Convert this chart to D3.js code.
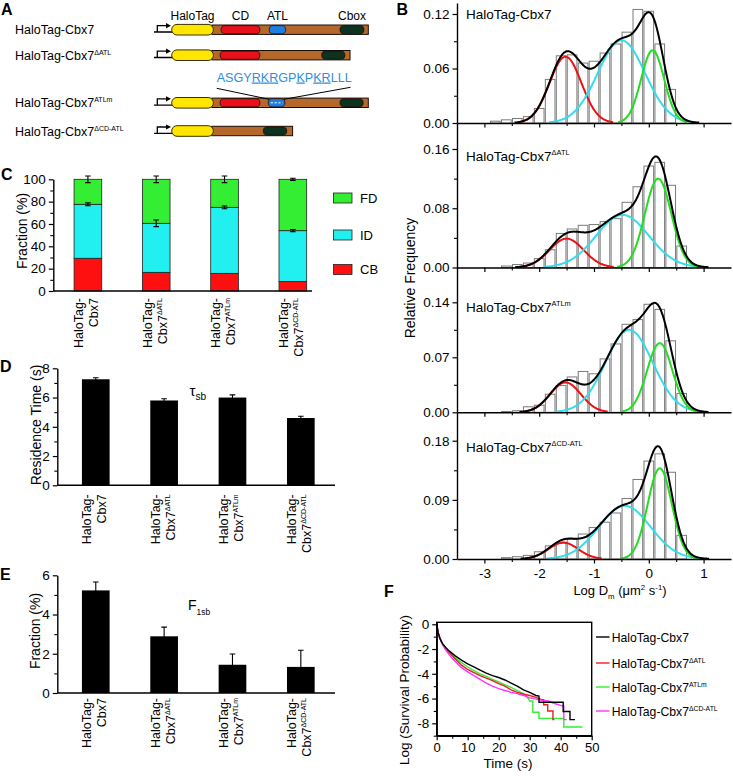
<!DOCTYPE html>
<html><head><meta charset="utf-8">
<script src="https://cdn.jsdelivr.net/npm/d3@7/dist/d3.min.js"></script>
<style>html,body{margin:0;padding:0;background:#fff;}svg{display:block;}</style>
</head><body>
<svg id="fig" width="733" height="778"></svg>
<script>
// ================= DATA =================
const constructBase = "HaloTag-Cbx7";
const constructSup = ["", "ΔATL", "ATLm", "ΔCD-ATL"];
const domainLabels = ["HaloTag", "CD", "ATL", "Cbox"];
// panel A: domain extents along each construct (arbitrary units)
const haloSpan = [0, 21.2];
const bodyStart = 20.4;
const bodyEnd = [100, 90.7, 100, 61.5];
const cdSpan = [[25.1, 44.9], [24.6, 44.9], [24.6, 44.9], null];
const atlSpan = [[49.6, 58], null, [49.1, 57.6], null];
const cboxSpan = [[85.6, 97.8], [76.3, 88.1], [85.6, 97.4], [46.6, 58.5]];
const atlSeq = "ASGYRKRGPKPKRLLL";
const atlUnderlined = [4, 5, 6, 9, 11, 12];

// panel B: histograms of log Dm (bin centres) and three-Gaussian fits
const binCenters = [-2.8, -2.6, -2.4, -2.2, -2.0, -1.8, -1.6, -1.4, -1.2, -1.0, -0.8, -0.6, -0.4, -0.2, 0.0, 0.2, 0.4, 0.6];
const histCbx7    = [0.002, 0.0035, 0.005, 0.007, 0.016, 0.048, 0.074, 0.075, 0.066, 0.068, 0.077, 0.087, 0.100, 0.125, 0.123, 0.087, 0.037, 0];
const histDATL    = [0, 0.002, 0.004, 0.006, 0.012, 0.024, 0.046, 0.052, 0.057, 0.058, 0.062, 0.066, 0.088, 0.109, 0.137, 0.142, 0.111, 0.029];
const histATLm    = [0, 0.001, 0.002, 0.007, 0.009, 0.023, 0.034, 0.045, 0.052, 0.049, 0.068, 0.087, 0.112, 0.118, 0.1375, 0.131, 0.091, 0.024];
const histDCDATL  = [0, 0.002, 0.0035, 0.0055, 0.011, 0.020, 0.024, 0.030, 0.038, 0.048, 0.056, 0.070, 0.092, 0.121, 0.149, 0.160, 0.132, 0.036];
// [amplitude, centre, sigma] for each panel
const fitCB = [[0.073, -1.52, 0.29], [0.039, -1.50, 0.31], [0.038, -1.52, 0.28], [0.025, -1.56, 0.27]];
const fitID = [[0.091, -0.50, 0.43], [0.071, -0.48, 0.48], [0.105, -0.36, 0.43], [0.081, -0.44, 0.47]];
const fitFD = [[0.080, 0.07, 0.21], [0.120, 0.17, 0.24], [0.088, 0.20, 0.23], [0.138, 0.20, 0.22]];
const bYTickMajor = [[0, 0.06, 0.12], [0, 0.08, 0.16], [0, 0.07, 0.14], [0, 0.09, 0.18]];
const bYTickMinor = [[0.03, 0.09], [0.04, 0.12], [0.035, 0.105], [0.045, 0.135]];
const bXTickMajor = [-3, -2, -1, 0, 1];
const bXTickMinor = [-2.5, -1.5, -0.5, 0.5];

// panel C: fractions (%)
const fractionCB = [29.3, 16.7, 15.8, 8.4];
const fractionID = [48.3, 43.9, 59.1, 45.6];
const fractionFD = [22.4, 39.4, 25.1, 46.0];
const errTop = [3, 3, 3, 1];
const errID = [1.3, 3, 1.2, 1.0];
const fractionLegend = ["FD", "ID", "CB"];
const cTicks = [0, 20, 40, 60, 80, 100];
const cTicksMinor = [10, 30, 50, 70, 90];

// panel D: residence time (s)
const residenceTime = [7.25, 5.8, 6.0, 4.6];
const residenceErr = [0.1, 0.12, 0.18, 0.12];
const dTicks = [0, 2, 4, 6, 8];
const dTicksMinor = [1, 3, 5, 7];

// panel E: F1sb fraction (%)
const f1sb = [5.23, 2.89, 1.44, 1.33];
const f1sbErr = [0.43, 0.47, 0.55, 0.85];
const eTicks = [0, 2, 4, 6];
const eTicksMinor = [1, 3, 5];

// panel F: log survival probability vs time (s)
const survCbx7 = [[0,0],[0.5,-0.7],[1,-1.1],[1.5,-1.4],[2,-1.6],[3,-1.9],[4,-2.15],[5,-2.35],[6,-2.55],[8,-2.9],[10,-3.2],[12,-3.45],[14,-3.7],[16,-3.95],[18,-4.15],[20,-4.3],[22,-4.5],[24,-4.75],[26,-5.0],[28,-5.3],[30,-5.5],[32,-5.75],[33,-5.8],[33,-6.3],[40.8,-6.3],[40.8,-7.05],[43,-7.05],[43,-7.7],[44.6,-7.7]];
const survDATL = [[0,0],[0.5,-0.7],[1,-1.1],[2,-1.65],[3,-2.0],[4,-2.3],[5,-2.55],[6,-2.8],[8,-3.3],[10,-3.65],[12,-3.9],[14,-4.15],[16,-4.35],[18,-4.55],[20,-4.8],[22,-5.0],[24,-5.3],[26,-5.5],[28,-5.65],[30,-5.75],[32,-5.9],[34,-6.1],[34.5,-6.1],[34.5,-6.5],[35.8,-6.5],[35.8,-7.0],[37.5,-7.0],[37.5,-7.7],[38,-7.7]];
const survATLm = [[0,0],[0.5,-0.7],[1,-1.1],[2,-1.6],[3,-1.95],[4,-2.2],[5,-2.45],[6,-2.7],[8,-3.1],[10,-3.45],[12,-3.75],[14,-4.0],[16,-4.2],[18,-4.45],[20,-4.65],[22,-4.9],[24,-5.1],[26,-5.35],[28,-5.6],[29,-5.8],[30,-6.2],[31,-6.2],[31,-7.1],[33,-7.1],[33,-7.6],[41,-7.6],[41,-8.3],[47,-8.3]];
const survDCDATL = [[0,0],[0.5,-0.72],[1,-1.15],[2,-1.7],[3,-2.1],[4,-2.45],[5,-2.75],[6,-3.0],[8,-3.5],[10,-3.85],[12,-4.15],[14,-4.45],[16,-4.75],[18,-5.0],[20,-5.2],[22,-5.35],[24,-5.5],[26,-5.6],[28,-5.75],[30,-5.95],[32,-6.05],[34,-6.15],[36,-6.2],[38,-6.4],[40,-6.55],[41,-6.6],[41,-7.7],[42,-7.7]];
const fXTicks = [0, 10, 20, 30, 40, 50];
const fXTicksMinor = [5, 15, 25, 35, 45];
const fYTicks = [-8, -6, -4, -2, 0];
const fYTicksMinor = [-9, -7, -5, -3, -1];

// ================= STYLE / LAYOUT =================
const FF = 'Arial, "Liberation Sans", Helvetica, sans-serif';
const RED = "#ee1111", CYAN = "#33ddee", GREEN = "#22dd22";
const svg = d3.select("#fig").attr("font-family", FF);
const plain = d => String(d);

function styleAxis(g, fs) {
  g.selectAll("path.domain").attr("stroke", "#000").attr("stroke-width", 1.4);
  g.selectAll(".tick line").attr("stroke", "#000").attr("stroke-width", 1.2);
  g.selectAll(".tick text").attr("font-family", FF).attr("font-size", fs || 13.5).attr("fill", "#000");
  return g;
}
function minorAxis(parent, axisFn, scale, vals, tx, ty) {
  const g = parent.append("g").attr("transform", `translate(${tx},${ty})`)
    .call(axisFn(scale).tickValues(vals).tickSize(3).tickFormat(""));
  g.select("path.domain").remove();
  g.selectAll(".tick line").attr("stroke", "#000").attr("stroke-width", 1.1);
}
function rich(textSel, parts, size) {
  let shift = 0;
  parts.forEach(p => {
    let target = 0;
    if (p.s === "sup") target = -size * (p.r || 0.42);
    if (p.s === "sub") target = size * (p.r || 0.28);
    const ts = textSel.append("tspan").text(p.t).attr("dy", target - shift);
    if (p.s) ts.attr("font-size", size * (p.f || 0.58));
    if (p.dx) ts.attr("dx", p.dx);
    shift = target;
  });
}
function panelLetter(t, x, y) {
  svg.append("text").attr("x", x).attr("y", y).attr("font-size", 16).attr("font-weight", "bold").text(t);
}

// ================= PANEL A =================
panelLetter("A", 1, 15);
const xA = d3.scaleLinear().domain([0, 100]).range([171.7, 368.3]);
const rowY = [29.7, 55.2, 102.8, 131];
const gA = svg.append("g");
constructSup.forEach((sup, i) => {
  const t = gA.append("text").attr("x", 15).attr("y", rowY[i] + 4.5).attr("font-size", 12.5);
  rich(t, [{t: constructBase}, ...(sup ? [{t: sup, s: "sup", f: 0.56, r: 0.4}] : [])], 12.5);
  const cy = rowY[i];
  gA.append("path").attr("d", `M154,${cy + 2.3}H173 M157.3,${cy + 2.3}V${cy - 4}H167`).attr("fill", "none").attr("stroke", "#000").attr("stroke-width", 1.3);
  gA.append("path").attr("d", `M166,${cy - 6.6}L171,${cy - 4}L166,${cy - 1.4}Z`).attr("fill", "#000");
  gA.append("rect").attr("x", xA(bodyStart)).attr("y", cy - 4.7).attr("width", xA(bodyEnd[i]) - xA(bodyStart)).attr("height", 9.4)
    .attr("fill", "#b5682c").attr("stroke", "#1a0d05").attr("stroke-width", 1);
  gA.append("rect").attr("x", xA(haloSpan[0])).attr("y", cy - 5.3).attr("width", xA(haloSpan[1]) - xA(haloSpan[0])).attr("height", 10.6)
    .attr("rx", 5.3).attr("fill", "#ffe600").attr("stroke", "#3a3000").attr("stroke-width", 1);
  const pill = (span, col) => {
    if (!span) return;
    gA.append("rect").attr("x", xA(span[0])).attr("y", cy - 4.1).attr("width", xA(span[1]) - xA(span[0])).attr("height", 8.2)
      .attr("rx", 4.1).attr("fill", col).attr("stroke", "#1a0d05").attr("stroke-width", 0.8);
  };
  pill(cdSpan[i], "#e8101a");
  pill(atlSpan[i], "#1e7fe0");
  pill(cboxSpan[i], "#0d3320");
  if (i === 2) {
    gA.append("line").attr("x1", xA(atlSpan[i][0]) + 2.5).attr("x2", xA(atlSpan[i][1]) - 2.5).attr("y1", cy).attr("y2", cy)
      .attr("stroke", "#fff").attr("stroke-width", 1).attr("stroke-dasharray", "2.2,1.6");
  }
});
const domCenters = [(haloSpan[0] + haloSpan[1]) / 2, (cdSpan[0][0] + cdSpan[0][1]) / 2, (atlSpan[0][0] + atlSpan[0][1]) / 2, (cboxSpan[0][0] + cboxSpan[0][1]) / 2];
domainLabels.forEach((d, i) => {
  gA.append("text").attr("x", xA(domCenters[i])).attr("y", 20).attr("text-anchor", "middle").attr("font-size", 12).text(d);
});
const seqText = gA.append("text").attr("x", 216.7).attr("y", 81.5).attr("font-size", 12.6).attr("fill", "#2b8fe0")
  .attr("textLength", 135).attr("lengthAdjust", "spacingAndGlyphs");
atlSeq.split("").forEach((ch, k) => {
  const ts = seqText.append("tspan").text(ch);
  if (atlUnderlined.includes(k)) ts.attr("text-decoration", "underline");
});
gA.append("path").attr("d", `M216.7,88.3L${xA(atlSpan[2][0]) + 1},${rowY[2] - 3.5} M350.5,87.3L${xA(atlSpan[2][1]) - 1},${rowY[2] - 3.5}`)
  .attr("stroke", "#000").attr("stroke-width", 1).attr("fill", "none");

// ================= PANEL B =================
panelLetter("B", 396.5, 15);
const B = {x0: 457, x1: 731, base: [123, 267.5, 412.3, 559], top: [3, 123, 267.5, 412.3], tickPx: [14, 149, 302.3, 440.7]};
const xB = d3.scaleLinear().domain([-3.5, 1.5]).range([B.x0, B.x1]);
const hists = [histCbx7, histDATL, histATLm, histDCDATL];
const gauss = (p, x) => p[0] * Math.exp(-((x - p[1]) ** 2) / (2 * p[2] * p[2]));
const binW = 0.2;
const xsFit = d3.range(-3.0, 1.3001, 0.01);
hists.forEach((h, i) => {
  const tickMax = bYTickMajor[i][2];
  const yMax = tickMax * (B.base[i] - B.top[i]) / (B.base[i] - B.tickPx[i]);
  const y = d3.scaleLinear().domain([0, yMax]).range([B.base[i], B.top[i]]);
  const g = svg.append("g");
  const bw = xB(binW) - xB(0);
  g.selectAll("rect.bar").data(binCenters.map((c, k) => [c, h[k]]).filter(d => d[1] > 0)).enter().append("rect")
    .attr("x", d => xB(d[0]) - bw * 0.44).attr("width", bw * 0.88)
    .attr("y", d => y(d[1])).attr("height", d => y(0) - y(d[1]))
    .attr("fill", "#fff").attr("stroke", "#7a7a7a").attr("stroke-width", 1);
  const comps = [[fitCB[i], RED], [fitID[i], CYAN], [fitFD[i], GREEN]];
  const line = d3.line().x(d => xB(d[0])).y(d => y(d[1])).curve(d3.curveBasis);
  comps.forEach(([p, col]) => {
    const pts = xsFit.map(x => [x, gauss(p, x)]).filter(d => d[1] > 0.0008);
    g.append("path").attr("d", line(pts)).attr("fill", "none").attr("stroke", col).attr("stroke-width", 2);
  });
  const sumPts = xsFit.map(x => [x, comps.reduce((s, c) => s + gauss(c[0], x), 0)]).filter(d => d[1] > 0.0004);
  g.append("path").attr("d", line(sumPts)).attr("fill", "none").attr("stroke", "#000").attr("stroke-width", 2);
  const ya = g.append("g").attr("transform", `translate(${B.x0},0)`)
    .call(d3.axisLeft(y).tickValues(bYTickMajor[i]).tickSize(4.5).tickSizeOuter(0).tickPadding(3).tickFormat(d3.format(".2f")));
  styleAxis(ya);
  minorAxis(g, d3.axisLeft, y, bYTickMinor[i], B.x0, 0);
  const xa = g.append("g").attr("transform", `translate(0,${B.base[i]})`)
    .call(d3.axisBottom(xB).tickValues(bXTickMajor).tickSize(4.5).tickSizeOuter(0).tickPadding(5)
      .tickFormat(i === 3 ? plain : ""));
  styleAxis(xa);
  minorAxis(g, d3.axisBottom, xB, bXTickMinor, 0, B.base[i]);
  const lblY = [19, 161, 311.7, 451.5][i];
  const t = g.append("text").attr("x", 466).attr("y", lblY).attr("font-size", 13.5);
  rich(t, [{t: constructBase}, ...(constructSup[i] ? [{t: constructSup[i], s: "sup", f: 0.55, r: 0.42}] : [])], 13.5);
});
svg.append("text").attr("transform", "translate(415,278) rotate(-90)").attr("text-anchor", "middle").attr("font-size", 14).text("Relative Frequency");
const xTitleB = svg.append("text").attr("x", 620).attr("y", 595).attr("text-anchor", "middle").attr("font-size", 13);
rich(xTitleB, [{t: "Log D"}, {t: "m", s: "sub", f: 0.6, r: 0.3}, {t: " (μm"}, {t: "2", s: "sup", f: 0.6, r: 0.4}, {t: " s"}, {t: "-1", s: "sup", f: 0.6, r: 0.4}, {t: ")"}], 13);

// ================= shared: category labels =================
function catLabels(g, x, axisY, off) {
  constructSup.forEach((sup, i) => {
    const cx = x(i) + x.bandwidth() / 2;
    const t = g.append("g").attr("transform", `translate(${cx},${axisY + off}) rotate(-90)`);
    t.append("text").attr("text-anchor", "end").attr("y", -4.6).attr("font-size", 12.5).text("HaloTag-");
    const l2 = t.append("text").attr("text-anchor", "end").attr("y", 10.4).attr("font-size", 12.5);
    rich(l2, [{t: "Cbx7"}, ...(sup ? [{t: sup, s: "sup", f: 0.56, r: 0.4}] : [])], 12.5);
  });
}
function catScale(r) {
  return d3.scaleBand().domain(d3.range(4)).range(r).paddingInner(0.595).paddingOuter(0.2975);
}
function errBar(g, cx, yTopPx, yBotPx, cap) {
  g.append("path").attr("d", `M${cx},${yTopPx}V${yBotPx} M${cx - cap},${yTopPx}H${cx + cap} M${cx - cap},${yBotPx}H${cx + cap}`)
    .attr("stroke", "#000").attr("stroke-width", 1.1).attr("fill", "none");
}

// ================= PANEL C =================
panelLetter("C", 1, 180);
const xC = catScale([53.75, 327]);
const yC = d3.scaleLinear().domain([0, 100]).range([291, 179.3]);
const gC = svg.append("g");
const stacks = [[fractionCB, "#ff1010"], [fractionID, "#22f0f0"], [fractionFD, "#33ee33"]];
const cum = [0, 0, 0, 0];
stacks.forEach(([vals, col]) => {
  vals.forEach((v, k) => {
    gC.append("rect").attr("x", xC(k)).attr("width", xC.bandwidth())
      .attr("y", yC(cum[k] + v)).attr("height", yC(cum[k]) - yC(cum[k] + v))
      .attr("fill", col).attr("stroke", "#222").attr("stroke-width", 0.8);
    cum[k] += v;
  });
});
d3.range(4).forEach(k => {
  const cx = xC(k) + xC.bandwidth() / 2;
  const tot = fractionCB[k] + fractionID[k] + fractionFD[k];
  errBar(gC, cx, yC(tot + errTop[k]), yC(tot - errTop[k]), 2.8);
  const idTop = fractionCB[k] + fractionID[k];
  errBar(gC, cx, yC(idTop + errID[k]), yC(idTop - errID[k]), 2.8);
});
styleAxis(gC.append("g").attr("transform", "translate(53.3,0)")
  .call(d3.axisLeft(yC).tickValues(cTicks).tickSize(4.5).tickSizeOuter(0).tickPadding(3).tickFormat(plain)));
minorAxis(gC, d3.axisLeft, yC, cTicksMinor, 53.3, 0);
gC.append("line").attr("x1", 53.3).attr("x2", 312).attr("y1", 291).attr("y2", 291).attr("stroke", "#000").attr("stroke-width", 1.4);
catLabels(gC, xC, 291, 7);
gC.append("text").attr("transform", "translate(26.5,231) rotate(-90)").attr("text-anchor", "middle").attr("font-size", 14).text("Fraction (%)");
const legCols = ["#33ee33", "#22f0f0", "#ff1010"];
const legY = [198, 235, 269.5];
fractionLegend.forEach((l, k) => {
  gC.append("rect").attr("x", 333.5).attr("y", legY[k] - 5).attr("width", 18.5).attr("height", 10)
    .attr("fill", legCols[k]).attr("stroke", "#222").attr("stroke-width", 0.8);
  gC.append("text").attr("x", 360).attr("y", legY[k] + 4.5).attr("font-size", 13).text(l);
});

// ================= PANEL D =================
panelLetter("D", 0, 372);
const xD = catScale([61.6, 335]);
const yD = d3.scaleLinear().domain([0, 8]).range([485.3, 368.3]);
const gD = svg.append("g");
residenceTime.forEach((v, k) => {
  const cx = xD(k) + xD.bandwidth() / 2;
  errBar(gD, cx, yD(v + residenceErr[k]), yD(v - residenceErr[k]), 2.8);
  gD.append("rect").attr("x", xD(k)).attr("width", xD.bandwidth()).attr("y", yD(v)).attr("height", yD(0) - yD(v)).attr("fill", "#000");
});
styleAxis(gD.append("g").attr("transform", "translate(57.3,0)")
  .call(d3.axisLeft(yD).tickValues(dTicks).tickSize(4.5).tickSizeOuter(0).tickPadding(3).tickFormat(plain)));
minorAxis(gD, d3.axisLeft, yD, dTicksMinor, 57.3, 0);
gD.append("line").attr("x1", 57.3).attr("x2", 335).attr("y1", 485.3).attr("y2", 485.3).attr("stroke", "#000").attr("stroke-width", 1.4);
catLabels(gD, xD, 485.3, 9);
gD.append("text").attr("transform", "translate(40.5,425) rotate(-90)").attr("text-anchor", "middle").attr("font-size", 14).text("Residence Time (s)");
const tau = gD.append("text").attr("x", 189.5).attr("y", 395.5).attr("font-size", 15);
rich(tau, [{t: "τ"}, {t: "sb", s: "sub", f: 0.68, r: 0.3}], 15);

// ================= PANEL E =================
panelLetter("E", 0, 580);
const xE = catScale([61.6, 335]);
const yE = d3.scaleLinear().domain([0, 6]).range([693, 575.3]);
const gE = svg.append("g");
f1sb.forEach((v, k) => {
  const cx = xE(k) + xE.bandwidth() / 2;
  errBar(gE, cx, yE(v + f1sbErr[k]), yE(v - f1sbErr[k]), 2.8);
  gE.append("rect").attr("x", xE(k)).attr("width", xE.bandwidth()).attr("y", yE(v)).attr("height", yE(0) - yE(v)).attr("fill", "#000");
});
styleAxis(gE.append("g").attr("transform", "translate(57.3,0)")
  .call(d3.axisLeft(yE).tickValues(eTicks).tickSize(4.5).tickSizeOuter(0).tickPadding(3).tickFormat(plain)));
minorAxis(gE, d3.axisLeft, yE, eTicksMinor, 57.3, 0);
gE.append("line").attr("x1", 57.3).attr("x2", 335).attr("y1", 693).attr("y2", 693).attr("stroke", "#000").attr("stroke-width", 1.4);
catLabels(gE, xE, 693, 5);
gE.append("text").attr("transform", "translate(39.5,631) rotate(-90)").attr("text-anchor", "middle").attr("font-size", 14).text("Fraction (%)");
const f1 = gE.append("text").attr("x", 188).attr("y", 609.5).attr("font-size", 14);
rich(f1, [{t: "F"}, {t: "1sb", s: "sub", f: 0.6, r: 0.36}], 14);

// ================= PANEL F =================
panelLetter("F", 384, 597);
const xF = d3.scaleLinear().domain([0, 50]).range([436.7, 591.7]);
const yF = d3.scaleLinear().domain([-9, 0.16]).range([735.7, 622.3]);
const gF = svg.append("g");
const survs = [[survCbx7, "#000"], [survDATL, "#ee1c24"], [survATLm, "#33ee33"], [survDCDATL, "#ff33ff"]];
const lineF = d3.line().x(d => xF(d[0])).y(d => yF(d[1]));
[survs[2], survs[1], survs[3], survs[0]].forEach(([d, col]) => {
  gF.append("path").attr("d", lineF(d)).attr("fill", "none").attr("stroke", col).attr("stroke-width", 1.4);
});
gF.append("rect").attr("x", 436.7).attr("y", 622.3).attr("width", 155).attr("height", 113.4).attr("fill", "none").attr("stroke", "#000").attr("stroke-width", 1.4);
styleAxis(gF.append("g").attr("transform", "translate(436.7,0)")
  .call(d3.axisLeft(yF).tickValues(fYTicks).tickSize(4.5).tickSizeOuter(0).tickPadding(3).tickFormat(plain)));
minorAxis(gF, d3.axisLeft, yF, fYTicksMinor, 436.7, 0);
styleAxis(gF.append("g").attr("transform", "translate(0,735.7)")
  .call(d3.axisBottom(xF).tickValues(fXTicks).tickSize(4.5).tickSizeOuter(0).tickPadding(2.5).tickFormat(plain)), 13);
minorAxis(gF, d3.axisBottom, xF, fXTicksMinor, 0, 735.7);
gF.append("text").attr("transform", "translate(409,690) rotate(-90)").attr("text-anchor", "middle").attr("font-size", 13.5).text("Log (Survival Probability)");
gF.append("text").attr("x", 508).attr("y", 768).attr("text-anchor", "middle").attr("font-size", 13.5).text("Time (s)");
const legFY = [637, 663, 687, 711];
survs.forEach(([d, col], k) => {
  gF.append("line").attr("x1", 596).attr("x2", 609.5).attr("y1", legFY[k]).attr("y2", legFY[k]).attr("stroke", col).attr("stroke-width", 1.4);
  const t = gF.append("text").attr("x", 611.7).attr("y", legFY[k] + 4.5).attr("font-size", 12.2);
  rich(t, [{t: constructBase}, ...(constructSup[k] ? [{t: constructSup[k], s: "sup", f: 0.56, r: 0.4}] : [])], 12.2);
});
</script>
</body></html>
